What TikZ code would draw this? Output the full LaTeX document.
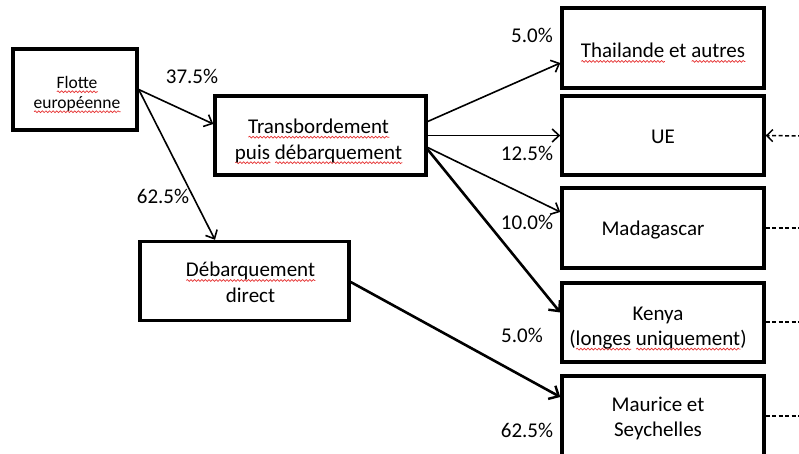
\documentclass[tikz,border=0pt]{standalone}
\usepackage{fontspec}
\setmainfont{Carlito}
\usetikzlibrary{arrows.meta,calc,decorations.pathmorphing}
\definecolor{sqred}{RGB}{230,50,50}
\newlength\wvl
\newcommand\wv[1]{\settowidth\wvl{#1}\makebox[0pt][l]{\raisebox{-3.5pt}{\tikz[baseline=0pt]\draw[sqred,line width=0.7pt,decorate,decoration={snake,amplitude=0.9pt,segment length=3.6pt}] (0pt,0pt) -- (\wvl,0pt);}}#1}
\tikzset{
  box/.style={draw=black,line width=3.4pt,rectangle,inner sep=0pt},
  txt/.style={inner sep=0pt,align=center,font=\fontsize{21}{25.5}\selectfont,text=black},
  pct/.style={inner sep=0pt,font=\fontsize{21}{25}\selectfont,text=black},
  flow/.style={line width=1.6pt,-{Straight Barb[length=7pt,width=13pt,line width=1.6pt]}},
  bigflow/.style={line width=2.6pt,-{Straight Barb[length=8pt,width=15pt,line width=2.4pt]}},
  dsh/.style={line width=1.5pt,dash pattern=on 4pt off 2.5pt}
}
\begin{document}
\begin{tikzpicture}[x=1pt,y=-1pt]
\useasboundingbox (0,0) rectangle (799,454);
\clip (0,0) rectangle (799,454);
\fill[white] (0,0) rectangle (799,454);

% boxes
\node[box,minimum width=124pt,minimum height=81pt] (flotte) at (75,89.5) {};
\node[box,minimum width=211pt,minimum height=79pt] (trans) at (320.5,135.5) {};
\node[box,minimum width=209pt,minimum height=79pt] (direct) at (244.5,281) {};
\node[box,minimum width=202pt,minimum height=80pt] (thai) at (663,48) {};
\node[box,minimum width=202pt,minimum height=79pt] (ue) at (663,135.5) {};
\node[box,minimum width=202pt,minimum height=80pt] (mada) at (663,228) {};
\node[box,minimum width=202pt,minimum height=79pt] (kenya) at (663,322.5) {};
\node[box,minimum width=202pt,minimum height=82pt] (maurice) at (663,417) {};

% texts
\node[txt,font=\fontsize{17.5}{20}\selectfont] (flotteT) at ($(flotte)+(2,5)$) {\wv{Flotte}\\\wv{européenne}};
\node[txt] (transT) at ($(trans)+(-2,6)$) {\wv{Transbordement}\\\wv{puis} \wv{débarquement}};
\node[txt] (directT) at ($(direct)+(6,1.5)$) {\wv{Débarquement}\\direct};
\node[txt] (thaiT) at ($(thai)+(0,5)$) {\wv{Thailande} et \wv{autres}};
\node[txt] (ueT) at ($(ue)+(0,1)$) {UE};
\node[txt] (madaT) at ($(mada)+(-10,2)$) {Madagascar};
\node[txt] (kenyaT) at ($(kenya)+(-5,6)$) {Kenya\\(\wv{longes} \wv{uniquement})};
\node[txt] (maurT) at ($(maurice)+(-5,1.5)$) {Maurice et\\Seychelles};

% percentages
\node[pct] (p1) at (192,76) {37.5\%};
\node[pct] (p2) at (163,196) {62.5\%};
\node[pct] (p3) at (532,35) {5.0\%};
\node[pct] (p4) at (527,153) {12.5\%};
\node[pct] (p5) at (527,222) {10.0\%};
\node[pct] (p6) at (522,335) {5.0\%};
\node[pct] (p7) at (527,430) {62.5\%};

% flows
\draw[flow] (flotte.east) -- ($(trans.west)+(0,-11.5)$);
\draw[flow] (flotte.east) -- ($(direct.north)+(-29.5,0)$);
\draw[flow] ($(trans.east)+(0,-14)$) -- ($(thai.west)+(0,15)$);
\draw[flow] (trans.east) -- (ue.west);
\draw[flow] ($(trans.east)+(0,12)$) -- ($(mada.west)+(0,-16)$);
\draw[bigflow] ($(trans.east)+(0,14)$) -- ($(kenya.west)+(0,-10)$);
\draw[bigflow] ($(direct.east)+(0,1)$) -- ($(maurice.west)+(0,-20)$);

% dashed links to the right
\coordinate (rue) at (802,136);
\coordinate (rmada) at (802,228);
\coordinate (rkenya) at (802,322);
\coordinate (rmaur) at (802,416);
\draw[dsh,-{Straight Barb[length=6pt,width=12pt,line width=1.5pt]}] (rue) -- (ue.east);
\draw[dsh] (mada.east) -- (rmada);
\draw[dsh] (kenya.east |- rkenya) -- (rkenya);
\draw[dsh] (maurice.east |- rmaur) -- (rmaur);
\end{tikzpicture}
\end{document}
